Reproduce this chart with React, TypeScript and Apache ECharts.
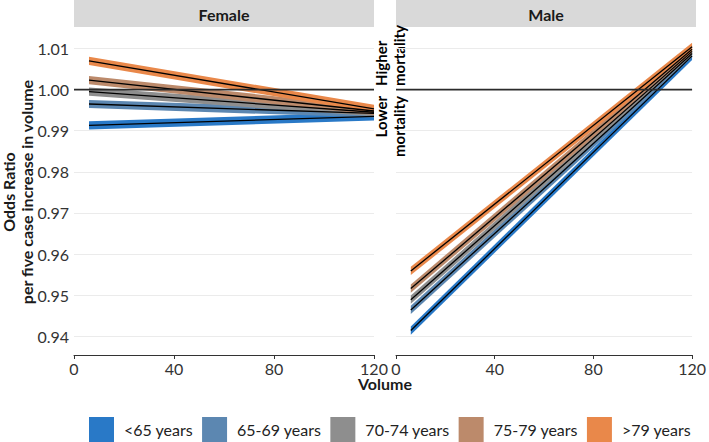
import React, { useEffect, useRef } from "react";
import * as echarts from "echarts";

// ---- data ----
const panels = ["Female", "Male"];
const ageGroups = ["<65 years", "65-69 years", "70-74 years", "75-79 years", ">79 years"];
const groupColors = ["#2979C7", "#5C87B1", "#8E8E8E", "#BC8A6B", "#E9884A"];
const volumePoints = [6, 120];
// odds ratio at volume 6 and volume 120
const femaleStart = [0.9913, 0.9965, 0.9995, 1.0023, 1.007];
const femaleEnd = [0.9935, 0.9942, 0.9945, 0.9948, 0.9953];
const maleStart = [0.9414, 0.9464, 0.9489, 0.9516, 0.9559];
const maleEnd = [1.0082, 1.0088, 1.0093, 1.0098, 1.0104];
const ciHalfWidth = [0.001, 0.001, 0.001, 0.001, 0.001];
const referenceOR = 1.0;
const xTicks = { min: 0, max: 120, interval: 40 };
const yRange = { min: 0.93545, max: 1.01523 };

const FONT = "Lato, 'Open Sans', sans-serif";

export default function App() {
  const ref = useRef<HTMLDivElement>(null);
  useEffect(() => {
    if (!ref.current) return;
    document.body.style.margin = "0";
    const chart = echarts.init(ref.current, null, { renderer: "svg" });
    const grids = [
      { left: 74, top: 27, width: 300, height: 328 },
      { left: 396, top: 27, width: 300, height: 328 },
    ];
    const starts = [femaleStart, maleStart];
    const ends = [femaleEnd, maleEnd];
    const series: any[] = [];
    for (let p = 0; p < 2; p++) {
      // ribbons (confidence bands)
      ageGroups.forEach((g, i) => {
        const hw = ciHalfWidth[i];
        const color = groupColors[i];
        series.push({
          name: g,
          type: "custom",
          xAxisIndex: p,
          yAxisIndex: p,
          itemStyle: { color },
          data: [
            [
              volumePoints[0],
              starts[p][i] - hw,
              starts[p][i] + hw,
              volumePoints[1],
              ends[p][i] - hw,
              ends[p][i] + hw,
            ],
          ],
          renderItem: (params: any, api: any) => {
            const a = api.coord([api.value(0), api.value(1)]);
            const b = api.coord([api.value(3), api.value(4)]);
            const c = api.coord([api.value(3), api.value(5)]);
            const d = api.coord([api.value(0), api.value(2)]);
            return {
              type: "polygon",
              shape: { points: [a, b, c, d] },
              style: { fill: color },
            };
          },
          silent: true,
          z: 2,
        });
      });
      // center lines
      ageGroups.forEach((g, i) => {
        series.push({
          type: "line",
          xAxisIndex: p,
          yAxisIndex: p,
          data: [
            [volumePoints[0], starts[p][i]],
            [volumePoints[1], ends[p][i]],
          ],
          symbol: "none",
          lineStyle: { color: "#000", width: 1.3 },
          silent: true,
          z: 3,
        });
      });
      // reference line
      series.push({
        type: "line",
        xAxisIndex: p,
        yAxisIndex: p,
        data: [
          [xTicks.min, referenceOR],
          [xTicks.max, referenceOR],
        ],
        symbol: "none",
        lineStyle: { color: "#2b2b2b", width: 1.6 },
        silent: true,
        z: 4,
      });
    }

    const textCommon = { fontFamily: FONT, fontWeight: "bold", fill: "#1a1a1a" };

    chart.setOption({
      animation: false,
      grid: grids,
      xAxis: [0, 1].map((p) => ({
        type: "value",
        gridIndex: p,
        min: xTicks.min,
        max: xTicks.max,
        interval: xTicks.interval,
        axisLine: { show: true, lineStyle: { color: "#333", width: 1 } },
        axisTick: { show: true, length: 4, lineStyle: { color: "#333" } },
        axisLabel: { fontSize: 16, color: "#333", fontFamily: FONT, margin: 5 },
        splitLine: { show: false },
      })),
      yAxis: [0, 1].map((p) => ({
        type: "value",
        gridIndex: p,
        min: yRange.min,
        max: yRange.max,
        splitNumber: 8,
        axisLine: { show: false },
        axisTick: { show: false },
        axisLabel: {
          show: p === 0,
          fontSize: 16,
          color: "#333",
          fontFamily: FONT,
          margin: 5,
          showMinLabel: false,
          showMaxLabel: false,
          formatter: (v: number) => v.toFixed(2),
        },
        splitLine: {
          show: true,
          showMinLine: false,
          showMaxLine: false,
          lineStyle: { color: "#EBEBEB", width: 1 },
        },
      })),
      legend: {
        data: ageGroups.map((n, i) => ({ name: n, itemStyle: { color: groupColors[i] } })),
        icon: "rect",
        itemWidth: 25,
        itemHeight: 25,
        itemGap: 9,
        left: 84,
        top: 412,
        selectedMode: false,
        textStyle: { fontSize: 16, color: "#222", fontFamily: FONT, padding: [0, 0, 0, 5] },
      },
      graphic: [
        ...panels.flatMap((name, p) => [
          {
            type: "rect",
            shape: { x: grids[p].left, y: 0, width: 300, height: 27 },
            style: { fill: "#D9D9D9" },
            silent: true,
          },
          {
            type: "text",
            x: grids[p].left + 150,
            y: 14,
            style: { ...textCommon, text: name, fontSize: 16, textAlign: "center", textVerticalAlign: "middle" },
            silent: true,
          },
        ]),
        {
          type: "text",
          x: 17.5,
          y: 192,
          rotation: Math.PI / 2,
          style: {
            ...textCommon,
            text: "Odds Ratio\nper five case increase in volume",
            fontSize: 16,
            lineHeight: 18,
            textAlign: "center",
            textVerticalAlign: "middle",
          },
          silent: true,
        },
        {
          type: "text",
          x: 385,
          y: 383,
          style: { ...textCommon, text: "Volume", fontSize: 16, textAlign: "center", textVerticalAlign: "middle" },
          silent: true,
        },
        {
          type: "text",
          x: 372,
          y: 86,
          rotation: Math.PI / 2,
          style: {
            ...textCommon,
            fill: "#000",
            text: "Higher\nmortality",
            fontSize: 15,
            lineHeight: 18,
            textAlign: "left",
            textVerticalAlign: "top",
          },
          silent: true,
        },
        {
          type: "text",
          x: 372,
          y: 96,
          rotation: Math.PI / 2,
          style: {
            ...textCommon,
            fill: "#000",
            text: "Lower\nmortality",
            fontSize: 15,
            lineHeight: 18,
            textAlign: "right",
            textVerticalAlign: "top",
          },
          silent: true,
        },
      ],
      series,
    });
    return () => chart.dispose();
  }, []);
  return <div ref={ref} style={{ width: 709, height: 442 }} />;
}
